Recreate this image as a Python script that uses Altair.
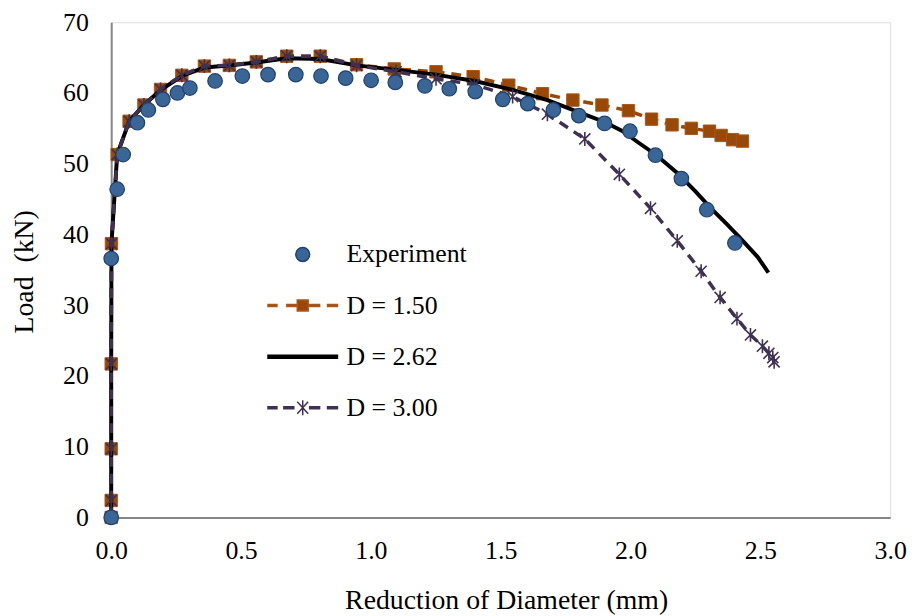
import altair as alt
import pandas as pd

# ---------------- data ----------------
exp_x = [0.0, 0.0, 0.023, 0.046, 0.101, 0.143, 0.199, 0.255, 0.303, 0.400,
         0.505, 0.604, 0.711, 0.808, 0.903, 1.001, 1.094, 1.208, 1.302, 1.402,
         1.508, 1.604, 1.703, 1.801, 1.900, 1.998, 2.096, 2.196, 2.294, 2.402]
exp_y = [0.0, 36.6, 46.4, 51.3, 55.8, 57.6, 59.1, 60.0, 60.7, 61.7,
         62.4, 62.6, 62.6, 62.4, 62.1, 61.8, 61.5, 61.0, 60.6, 60.2,
         59.1, 58.5, 57.6, 56.8, 55.7, 54.6, 51.2, 47.9, 43.5, 38.8]

d150_x = [0.0, 0.0, 0.0, 0.0, 0.001, 0.023, 0.069, 0.126, 0.190, 0.272,
          0.359, 0.455, 0.559, 0.676, 0.805, 0.945, 1.090, 1.251, 1.394, 1.531,
          1.661, 1.778, 1.890, 1.992, 2.081, 2.160, 2.234, 2.304, 2.349, 2.393, 2.431]
d150_y = [0.0, 2.4, 9.7, 21.7, 38.7, 51.3, 56.0, 58.3, 60.5, 62.5,
          63.8, 63.9, 64.4, 65.2, 65.2, 64.0, 63.4, 63.0, 62.3, 61.1,
          59.9, 59.0, 58.3, 57.5, 56.3, 55.5, 55.0, 54.6, 54.0, 53.4, 53.2]

d262_x = [0.0, 0.0, 0.0, 0.0, 0.001, 0.023, 0.069, 0.126, 0.190, 0.272,
          0.359, 0.455, 0.559, 0.676, 0.805, 0.945, 1.090, 1.250, 1.400, 1.550,
          1.680, 1.800, 1.900, 1.970, 2.030, 2.100, 2.180, 2.250, 2.310, 2.370,
          2.420, 2.490, 2.531]
d262_y = [0.0, 2.4, 9.7, 21.7, 38.7, 51.3, 56.0, 58.3, 60.4, 62.4,
          63.6, 63.9, 64.3, 64.9, 64.8, 63.9, 63.3, 62.6, 61.7, 60.4,
          59.0, 57.3, 55.9, 54.6, 53.0, 51.2, 48.7, 46.1, 43.7, 41.5,
          39.6, 36.8, 34.6]

d300_x = [0.0, 0.0, 0.0, 0.0, 0.001, 0.023, 0.069, 0.126, 0.190, 0.272,
          0.359, 0.455, 0.559, 0.676, 0.805, 0.945, 1.097, 1.251, 1.399, 1.546,
          1.680, 1.824, 1.957, 2.077, 2.180, 2.272, 2.345, 2.410, 2.462, 2.508,
          2.533, 2.548, 2.553]
d300_y = [0.0, 2.4, 9.7, 21.7, 38.7, 51.3, 56.0, 58.3, 60.5, 62.5,
          63.8, 63.9, 64.4, 65.2, 65.2, 63.9, 63.0, 62.0, 61.2, 59.5,
          57.0, 53.5, 48.5, 43.7, 39.1, 34.8, 31.1, 28.1, 25.8, 24.2,
          23.2, 22.6, 22.0]

series_names = ["Experiment", "D = 1.50", "D = 2.62", "D = 3.00"]
x_ticks = [0.0, 0.5, 1.0, 1.5, 2.0, 2.5, 3.0]
y_ticks = [0, 10, 20, 30, 40, 50, 60, 70]

# ---------------- styling ----------------
FONT = "Liberation Serif"
C_EXP_FILL = "#3A6597"
C_EXP_STROKE = "#22416B"
C_D150 = "#984807"
C_D150_EDGE = "#A8581C"
C_D262 = "#000000"
C_D300 = "#3F3151"

ASTERISK = "M-0.8,-0.8L0.8,0.8M-0.8,0.8L0.8,-0.8M0,-1L0,1"

# legend symbols (unit = 10 px with symbolSize 400)
LEG_EXP = "M-0.7,0A0.7,0.7,0,1,0,0.7,0A0.7,0.7,0,1,0,-0.7,0Z"
LEG_D150 = ("M-3.5,-0.1H-2.6V0.1H-3.5Z M-1.6,-0.1H-0.6V0.1H-1.6Z "
            "M-0.55,-0.55H0.55V0.55H-0.55Z M0.6,-0.1H1.7V0.1H0.6Z M2.5,-0.1H3.5V0.1H2.5Z")
LEG_D262 = "M-3.5,-0.15H3.5V0.15H-3.5Z"
LEG_D300 = ("M-3.5,-0.1H-2.6V0.1H-3.5Z M-1.9,-0.1H-0.9V0.1H-1.9Z "
            "M-0.55,-0.6L0.55,0.6M-0.55,0.6L0.55,-0.6M0,-0.75L0,0.75 "
            "M0.7,-0.1H1.7V0.1H0.7Z M2.5,-0.1H3.5V0.1H2.5Z")

df_exp = pd.DataFrame({"x": exp_x, "y": exp_y})
df_150 = pd.DataFrame({"x": d150_x, "y": d150_y, "i": range(len(d150_x))})
df_262 = pd.DataFrame({"x": d262_x, "y": d262_y, "i": range(len(d262_x))})
df_300 = pd.DataFrame({"x": d300_x, "y": d300_y, "i": range(len(d300_x))})
df_leg = pd.DataFrame({"series": series_names, "x": [0.0] * 4, "y": [0.0] * 4})

x_enc = alt.X(
    "x:Q",
    scale=alt.Scale(domain=[0, 3], nice=False, zero=False),
    axis=alt.Axis(
        values=x_ticks, format=".1f", title="Reduction of Diameter (mm)",
        grid=False, ticks=False, tickSize=0, labelFlush=False, labelOverlap=False,
        labelFont=FONT, labelFontSize=26, labelColor="black",
        labelBaseline="alphabetic", labelPadding=41,
        domainColor="#868686", domainWidth=2,
        titleFont=FONT, titleFontSize=28, titleFontWeight="normal", titleColor="black",
        titleBaseline="alphabetic", titleY=92, titleX=398,
    ),
)
y_enc = alt.Y(
    "y:Q",
    scale=alt.Scale(domain=[0, 70], nice=False),
    axis=alt.Axis(
        values=y_ticks, format="d", title="Load \u00a0(kN)",
        grid=False, ticks=False, tickSize=0, labelFlush=False, labelOverlap=False,
        labelFont=FONT, labelFontSize=26, labelColor="black", labelPadding=23,
        domainColor="#868686", domainWidth=2,
        titleFont=FONT, titleFontSize=28, titleFontWeight="normal", titleColor="black",
        titleAngle=270, titleBaseline="alphabetic", titleX=-79, titleY=251,
    ),
)

line150 = alt.Chart(df_150).mark_line(
    color=C_D150, strokeWidth=3.5, strokeDash=[10, 7]
).encode(x=x_enc, y=y_enc, order="i:Q")
pts150 = alt.Chart(df_150).mark_point(
    shape="square", size=156, filled=True, fill=C_D150, stroke=C_D150_EDGE,
    strokeWidth=1, opacity=1
).encode(x=x_enc, y=y_enc)

line262 = alt.Chart(df_262).mark_line(
    color=C_D262, strokeWidth=4
).encode(x=x_enc, y=y_enc, order="i:Q")

line300 = alt.Chart(df_300).mark_line(
    color=C_D300, strokeWidth=3.5, strokeDash=[10, 7]
).encode(x=x_enc, y=y_enc, order="i:Q")
pts300 = alt.Chart(df_300).mark_point(
    shape=ASTERISK, size=196, filled=False, stroke=C_D300, strokeWidth=1.6, opacity=1
).encode(x=x_enc, y=y_enc)

pts_exp = alt.Chart(df_exp).mark_point(
    shape="circle", size=215, filled=True, fill=C_EXP_FILL, stroke=C_EXP_STROKE,
    strokeWidth=1.2, opacity=1
).encode(x=x_enc, y=y_enc)

leg = alt.Legend(
    orient="none", legendX=180, legendY=221, title=None, padding=0,
    symbolSize=400, symbolStrokeWidth=1.5, symbolOpacity=1, symbolOffset=0,
    labelFont=FONT, labelFontSize=26, labelColor="black", labelOffset=31,
    labelLimit=400, rowPadding=25.5,
)
legend_layer = alt.Chart(df_leg).mark_point(filled=True, opacity=0).encode(
    x=x_enc, y=y_enc,
    shape=alt.Shape("series:N", scale=alt.Scale(domain=series_names,
                    range=[LEG_EXP, LEG_D150, LEG_D262, LEG_D300]), legend=leg),
    fill=alt.Fill("series:N", scale=alt.Scale(domain=series_names,
                  range=[C_EXP_FILL, C_D150, C_D262, C_D300]), legend=leg),
    stroke=alt.Stroke("series:N", scale=alt.Scale(domain=series_names,
                      range=[C_EXP_STROKE, C_D150_EDGE, C_D262, C_D300]), legend=leg),
)

chart = alt.layer(
    legend_layer, line150, pts150, line262, line300, pts300, pts_exp
).properties(
    width=785, height=499,
    autosize=alt.AutoSizeParams(type="none"),
    padding={"left": 104, "top": 12, "right": 22, "bottom": 100},
).configure_view(
    stroke="black", strokeWidth=2
).configure(background="white")

chart.save("out.html", embed_options={"renderer": "svg", "actions": False})
